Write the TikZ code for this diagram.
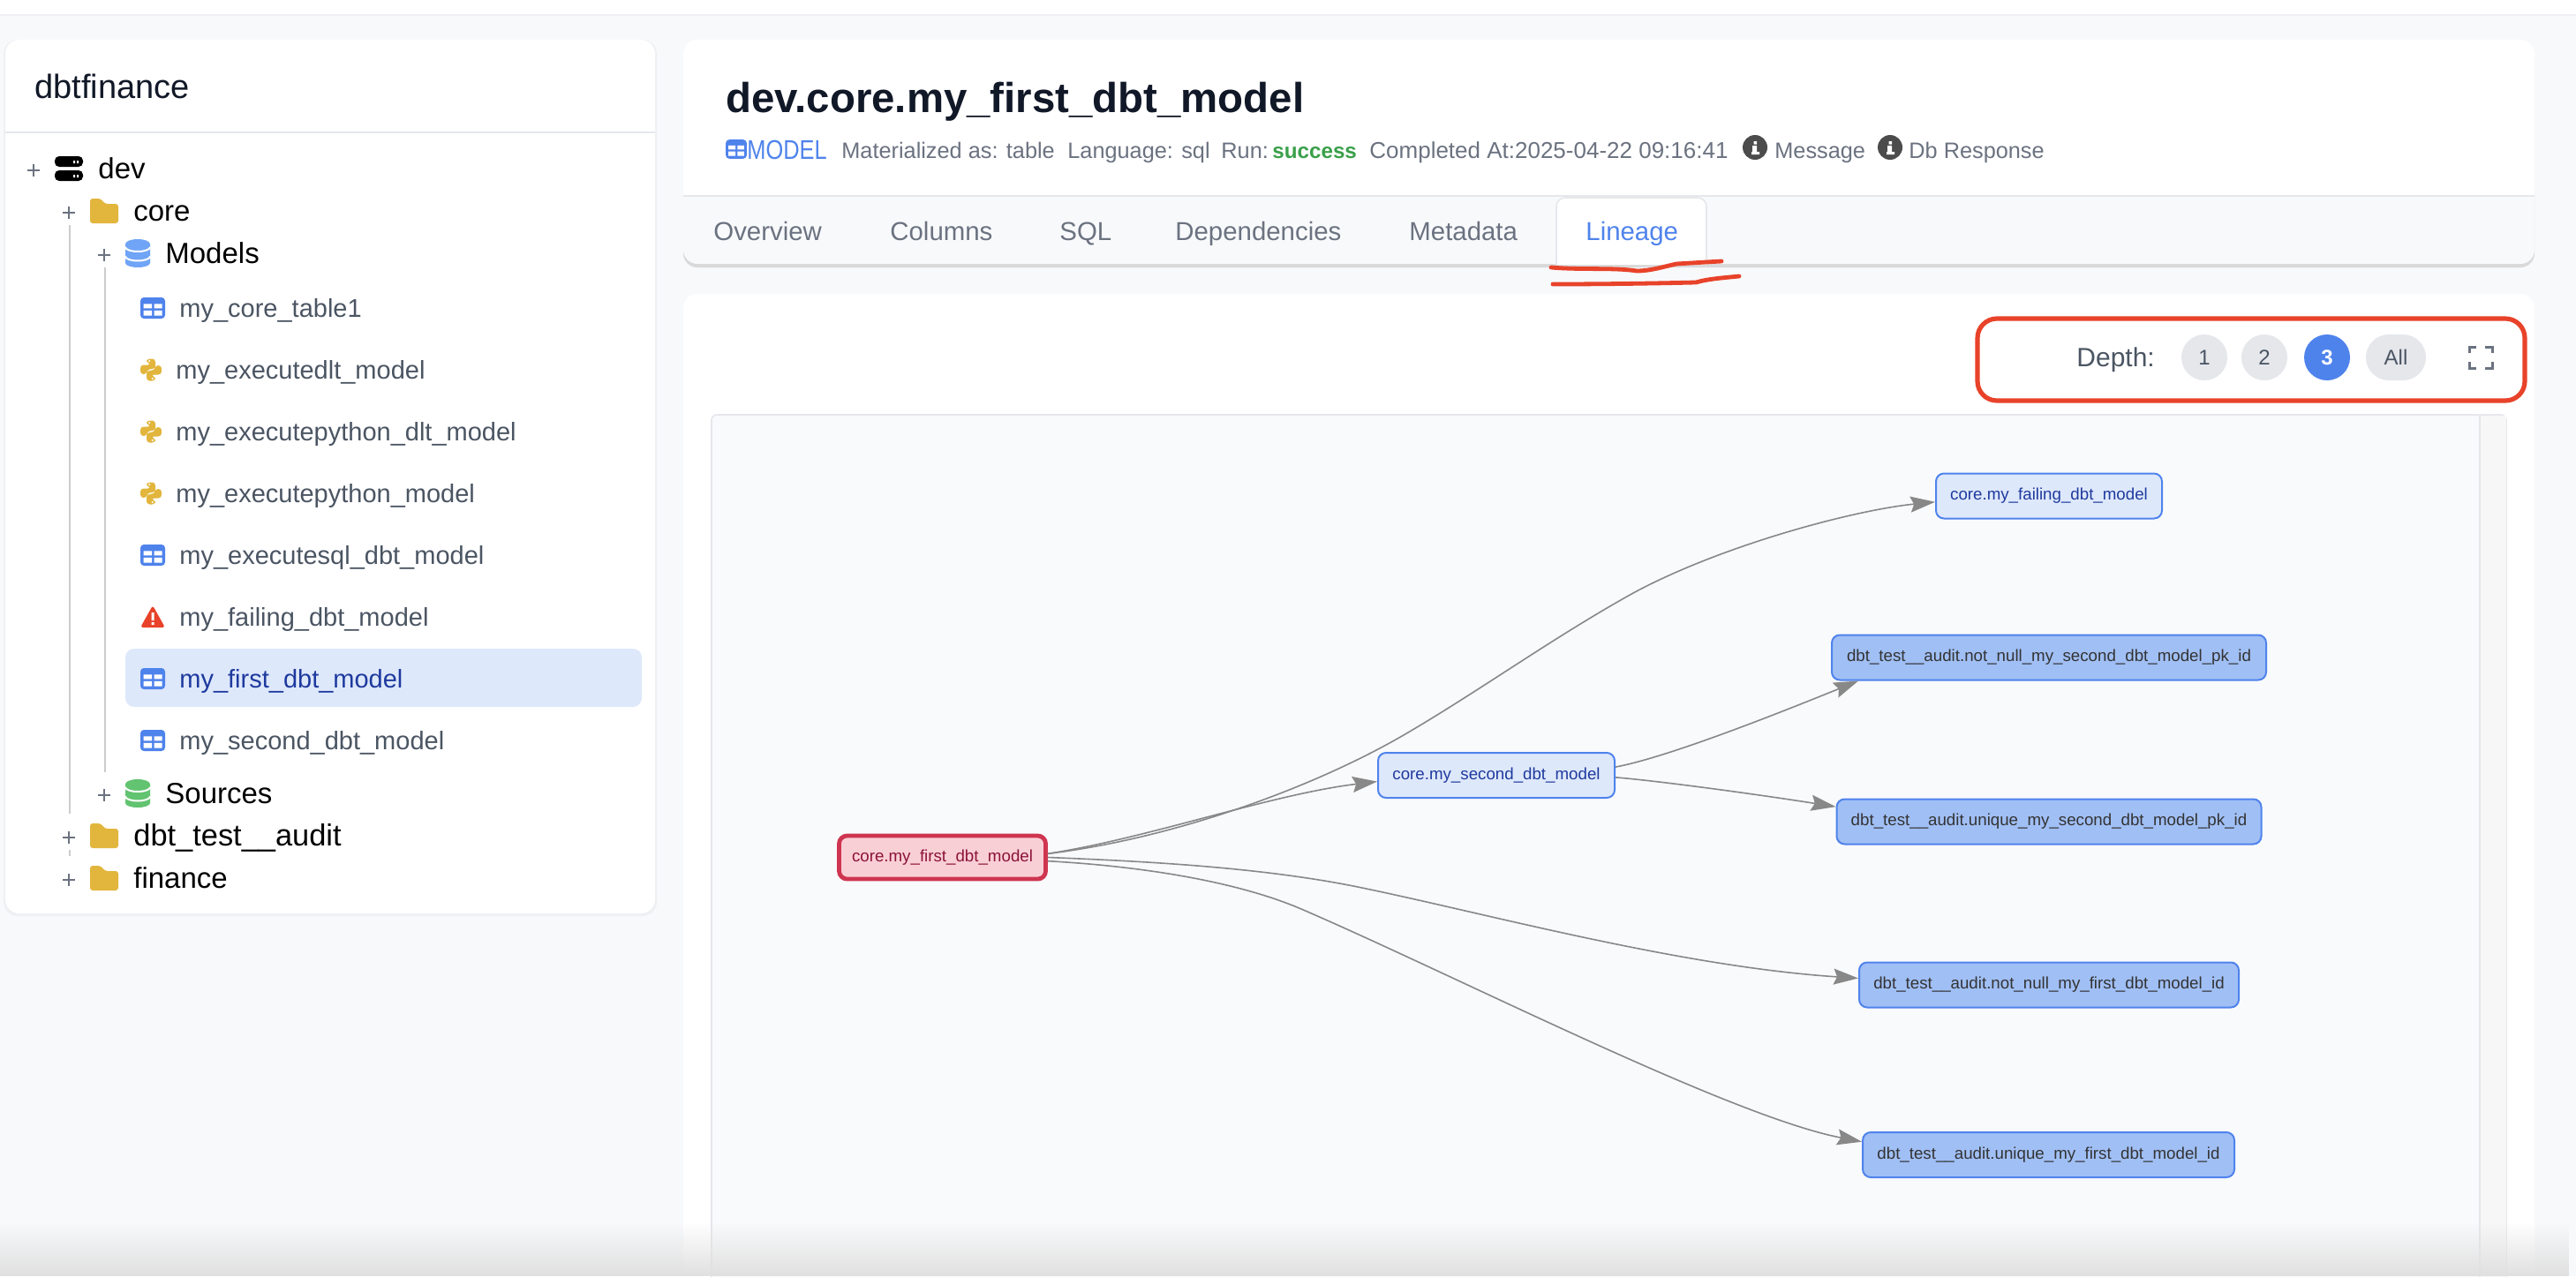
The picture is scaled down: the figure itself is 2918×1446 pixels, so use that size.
\documentclass[tikz,border=0pt]{standalone}
\usepackage{fontspec}
\setmainfont{Liberation Sans}
\usetikzlibrary{arrows.meta}
\usetikzlibrary{fadings}
\definecolor{pagebg}{HTML}{F8F9FB}
\definecolor{panelline}{HTML}{E5E7EB}
\definecolor{graphbg}{HTML}{F9FAFC}
\definecolor{soft}{HTML}{EEF0F3}
\definecolor{ink}{HTML}{111827}
\definecolor{muted}{HTML}{4B5563}
\definecolor{graytext}{HTML}{6B7280}
\definecolor{blueicon}{HTML}{4F83EC}
\definecolor{bluedb}{HTML}{70A4F6}
\definecolor{greendb}{HTML}{62C370}
\definecolor{goldicon}{HTML}{E2B63D}
\definecolor{penred}{HTML}{E8432A}
\definecolor{selectbg}{HTML}{DEE8FB}
\definecolor{selecttext}{HTML}{1E3A9E}
\definecolor{okgreen}{HTML}{3BA04A}
\definecolor{btngray}{HTML}{E5E7EB}
\definecolor{edgegray}{HTML}{888888}
\definecolor{testfill}{HTML}{A0BFF5}
\definecolor{rootfill}{HTML}{F9CFD6}
\definecolor{rootline}{HTML}{CF3550}
\definecolor{roottext}{HTML}{8B1338}
\tikzset{
  uitext/.style={anchor=west, inner sep=0pt},
  treehead/.style={uitext, text=black, text height=15.2pt, text depth=3.3pt, font=\fontsize{16.5}{18}\selectfont},
  treeitem/.style={uitext, text=muted, text height=13.3pt, text depth=2.9pt, font=\fontsize{14.5}{16}\selectfont},
  metatext/.style={uitext, text=graytext, text height=11.6pt, text depth=2.5pt, font=\fontsize{12.65}{14}\selectfont},
  tabtext/.style={uitext, text=graytext, text height=13.5pt, text depth=2.9pt, font=\fontsize{14.7}{16}\selectfont},
  depthbtn/.style={circle, fill=btngray, inner sep=0pt, minimum size=26pt, text=muted, font=\fontsize{12}{14}\selectfont},
  graphnode/.style={draw=blueicon, line width=1pt, rounded corners=4.5pt, inner sep=0pt, minimum height=25.5pt, font=\fontsize{9.36}{11}\selectfont},
  modelnode/.style={graphnode, fill=selectbg, text=selecttext},
  testnode/.style={graphnode, fill=testfill, text=black!80},
  edge/.style={->, draw=edgegray, line width=.8pt},
  penline/.style={draw=penred, line width=2.4pt, line cap=round, line join=round},
  tableicon/.pic={
    \fill[blueicon, rounded corners=2pt] (-14,-12) rectangle (14,12);
    \fill[white] (-10.5,-4.7) rectangle (-1,.4) (1.5,-4.7) rectangle (10.5,.4)
      (-10.5,2.8) rectangle (-1,8.5) (1.5,2.8) rectangle (10.5,8.5);
  },
  pyicon/.pic={
    \foreach \turn in {0,180}{
      \fill[goldicon, rounded corners=1.8pt, rotate=\turn] (-5,-12.5) -- (5,-12.5) -- (5,-1) -- (-2.5,-1)
        -- (-4.5,1) -- (-4.5,5) -- (-12,5) -- (-12,-5.5) -- (0,-5.5) -- (0,-7.5) -- (-5,-7.5) -- cycle;
      \fill[white, rotate=\turn] (-1.8,-10) circle (1.1);
    }
  },
  foldericon/.pic={
    \fill[goldicon, rounded corners=1.5pt] (-16,-14) -- (-4,-14) -- (1,-8) -- (16,-8) -- (16,14) -- (-16,14) -- cycle;
  },
  dbicon/.pic={
    \fill (-14,-10) -- (-14,11) arc[start angle=180, end angle=0, x radius=14, y radius=5] -- (14,-10) -- cycle;
    \fill (0,-10.5) ellipse (14 and 5.5);
    \draw[white, line width=1pt] (-14,-7) arc[start angle=180, end angle=0, x radius=14, y radius=5];
    \draw[white, line width=1pt] (-14,3.5) arc[start angle=180, end angle=0, x radius=14, y radius=5];
  },
  plussign/.pic={
    \draw[graytext, line width=.9pt] (-7,0) -- (7,0) (0,-7) -- (0,7);
  },
  infoicon/.pic={
    \fill[black!70] (0,0) circle (14);
    \fill[white] (-3,-2) rectangle (2,7) (-4,5) rectangle (5,8) (-1.5,-7) rectangle (2,-3.5);
  },
}
\begin{document}
\begin{tikzpicture}[x=0.5pt, y=-0.5pt, >={Stealth[length=14pt, width=9pt, inset=2pt]}]
    \useasboundingbox (0,0) rectangle (2918,1446);

    % fundo
    \fill[pagebg] (0,0) rectangle (2918,1446);
    \fill[white] (0,0) rectangle (2918,16);
    \draw[soft, line width=1pt] (0,17) -- (2918,17);

    % painel da esquerda
    \fill[soft, rounded corners=8pt] (4,45) rectangle (744,1038);
    \fill[white, rounded corners=8pt] (6,45) rectangle (742,1035);
    \draw[panelline, line width=1pt] (6,150) -- (742,150);
    \node[uitext, text=ink, text height=17.5pt, text depth=3.8pt, font=\fontsize{19}{21}\selectfont] (title) at (39,98) {dbtfinance};

    % linhas da arvore
    \draw[black!20, line width=.8pt] (79,255) -- (79,922) (119,303) -- (119,875) (79,963) -- (79,970);

    % arvore
    \pic at (38,193) {plussign};
    \fill[black, rounded corners=2.5pt] (62,177) rectangle (94,189) (62,193) rectangle (94,205);
    \fill[white] (83,182) rectangle (85,185) (87,182) rectangle (89,185) (83,198) rectangle (85,201) (87,198) rectangle (89,201);
    \node[treehead] (dev) at (111,191) {dev};
    \pic at (78,241) {plussign};
    \pic at (118,239) {foldericon};
    \node[treehead] (core) at (151,239) {core};
    \pic at (118,289) {plussign};
    \pic[bluedb] at (156,287) {dbicon};
    \node[treehead] (models) at (187,287) {Models};

    \pic at (173,349) {tableicon};
    \node[treeitem] (coretable) at (203,349) {my\_core\_table1};
    \pic at (171,419) {pyicon};
    \node[treeitem] (dltmodel) at (199,419) {my\_executedlt\_model};
    \pic at (171,489) {pyicon};
    \node[treeitem] (pydlt) at (199,489) {my\_executepython\_dlt\_model};
    \pic at (171,559) {pyicon};
    \node[treeitem] (pymodel) at (199,559) {my\_executepython\_model};
    \pic at (173,629) {tableicon};
    \node[treeitem] (sqlmodel) at (203,629) {my\_executesql\_dbt\_model};

    % triangulo de alerta
    \fill[penred, rounded corners=1.5pt] (173,686) -- (187,711) -- (159,711) -- cycle;
    \fill[white] (171.5,694) rectangle (174.5,703) (171.5,705) rectangle (174.5,708);
    \node[treeitem] (failmodel) at (203,699) {my\_failing\_dbt\_model};

    % item selecionado
    \fill[selectbg, rounded corners=5pt] (142,735) rectangle (727,801);
    \pic at (173,769) {tableicon};
    \node[treeitem, text=selecttext] (firstmodel) at (203,769) {my\_first\_dbt\_model};
    \pic at (173,839) {tableicon};
    \node[treeitem] (secondmodel) at (203,839) {my\_second\_dbt\_model};

    \pic at (118,901) {plussign};
    \pic[greendb] at (156,899) {dbicon};
    \node[treehead] (sources) at (187,899) {Sources};
    \pic at (78,949) {plussign};
    \pic at (118,947) {foldericon};
    \node[treehead, font=\fontsize{17.2}{19}\selectfont] (audit) at (151,947) {dbt\_test\_\_audit};
    \pic at (78,997) {plussign};
    \pic at (118,995) {foldericon};
    \node[treehead] (finance) at (151,995) {finance};

    % cabecalho
    \fill[black!15, rounded corners=8pt] (774,200) rectangle (2871,303);
    \fill[white, rounded corners=8pt] (774,45) rectangle (2871,240);
    \fill[pagebg, rounded corners=8pt] (774,210) rectangle (2871,299);
    \fill[white] (774,200) rectangle (2871,222);
    \draw[panelline, line width=1.2pt] (774,222) -- (2871,222);
    \node[uitext, text=ink, text height=21.8pt, text depth=4.7pt, font=\bfseries\fontsize{23.7}{26}\selectfont] (heading) at (822,110) {dev.core.my\_first\_dbt\_model};

    % linha de metadados
    \pic[xscale=.85, yscale=.9] at (834,169) {tableicon};
    \node[uitext, text=blueicon, text height=14.1pt, text depth=3.1pt, font=\fontsize{15.3}{17}\selectfont] (modeltag) at (846,169) {\scalebox{.83}[1]{MODEL}};
    \node[metatext] (materialized) at (953,170) {Materialized as: table};
    \node[metatext] (language) at (1209,170) {Language: sql};
    \node[metatext] (run) at (1383,170) {Run:};
    \node[metatext, text=okgreen, font=\bfseries\fontsize{12.1}{14}\selectfont] (success) at (1441,170) {success};
    \node[metatext, font=\fontsize{13}{14}\selectfont] (completed) at (1551,170) {Completed At:2025-04-22 09:16:41};
    \pic at (1988,167) {infoicon};
    \node[metatext] (message) at (2010,170) {Message};
    \pic at (2141,167) {infoicon};
    \node[metatext] (response) at (2162,170) {Db Response};

    % abas
    \node[tabtext] (overview) at (808,262) {Overview};
    \node[tabtext] (columns) at (1008,262) {Columns};
    \node[tabtext] (sql) at (1200,262) {SQL};
    \node[tabtext] (dependencies) at (1331,262) {Dependencies};
    \node[tabtext] (metadata) at (1596,262) {Metadata};
    \filldraw[fill=white, draw=panelline, line width=.8pt, rounded corners=5pt] (1763,300) -- (1763,224) -- (1933,224) -- (1933,300);
    \node[tabtext, text=blueicon] (lineage) at (1796,262) {Lineage};

    % riscos vermelhos
    \draw[penline] (1757,303) .. controls (1790,306) and (1830,303) .. (1854,307) .. controls (1870,307) and (1885,302) .. (1899,299) -- (1950,296);
    \draw[penline] (1759,322) .. controls (1820,322) and (1880,321) .. (1921,320) .. controls (1935,316) and (1950,315) .. (1970,313);

    % painel de baixo
    \fill[white, rounded corners=8pt] (774,333) rectangle (2871,1500);
    \draw[penred, line width=2.6pt, rounded corners=11pt] (2240,361) rectangle (2860,454);
    \node[uitext, text=muted, text height=13.8pt, text depth=3pt, font=\fontsize{15}{17}\selectfont] (depth) at (2352,405) {Depth:};
    \node[depthbtn] (depth1) at (2497,405) {1};
    \node[depthbtn] (depth2) at (2565,405) {2};
    \node[depthbtn, fill=blueicon, text=white, font=\bfseries\fontsize{12}{14}\selectfont] (depth3) at (2636,405) {3};
    \node[depthbtn, rectangle, rounded corners=13pt, minimum width=34pt, minimum height=26pt] (depthall) at (2714,405) {All};

    % icone de expandir
    \draw[graytext, line width=1.5pt] (2797,400) -- (2797,393) -- (2805,393) (2815,393) -- (2823,393) -- (2823,400)
      (2823,410) -- (2823,417) -- (2815,417) (2805,417) -- (2797,417) -- (2797,410);

    % area do grafo
    \filldraw[fill=graphbg, draw=panelline, line width=.8pt, rounded corners=3pt] (806,1500) -- (806,470) -- (2839,470) -- (2839,1500);
    \fill[black!3] (2809,471) rectangle (2839,1500);
    \draw[panelline, line width=.8pt] (2809,471) -- (2809,1500);

    % nos
    \node[modelnode, fill=rootfill, text=roottext, draw=rootline, line width=2.4pt, minimum width=117pt, minimum height=24.5pt] (first) at (1067.5,971.5) {core.my\_first\_dbt\_model};
    \node[modelnode, minimum width=134pt] (second) at (1695,878.5) {core.my\_second\_dbt\_model};
    \node[modelnode, minimum width=128pt] (failing) at (2321,562) {core.my\_failing\_dbt\_model};
    \node[testnode, minimum width=246pt] (nullsecond) at (2321,745) {dbt\_test\_\_audit.not\_null\_my\_second\_dbt\_model\_pk\_id};
    \node[testnode, minimum width=240.5pt] (uniquesecond) at (2321,931) {dbt\_test\_\_audit.unique\_my\_second\_dbt\_model\_pk\_id};
    \node[testnode, minimum width=215pt] (nullfirst) at (2321,1116) {dbt\_test\_\_audit.not\_null\_my\_first\_dbt\_model\_id};
    \node[testnode, minimum width=210.5pt] (uniquefirst) at (2320.5,1308.5) {dbt\_test\_\_audit.unique\_my\_first\_dbt\_model\_id};

    % arestas
    \draw[edge] (first.2.6) .. controls (1300,950) and (1440,900) .. (second.183.2);
    \draw[edge] (first.2.6) .. controls (1330,950) and (1490,892) .. (1595,830) .. controls (1680,780) and (1760,722) .. (1850,672) .. controls (1950,618) and (2100,578) .. (failing.183);
    \draw[edge] (first.-.7) .. controls (1300,976) and (1430,983) .. (1538,1005) .. controls (1680,1034) and (1900,1095) .. (nullfirst.178);
    \draw[edge] (first.-2.1) .. controls (1300,982) and (1404,1000) .. (1474,1030) .. controls (1650,1106) and (1960,1265) .. (uniquefirst.176.1);
    \draw[edge] (second.4.5) .. controls (1890,858) and (2020,806) .. (nullsecond.187.3);
    \draw[edge] (second.-1.5) .. controls (1880,885) and (1990,900) .. (uniquesecond.176.4);

    % sombra inferior
    \fill[black!12, path fading=north] (0,1385) rectangle (2918,1446);
\end{tikzpicture}
\end{document}
